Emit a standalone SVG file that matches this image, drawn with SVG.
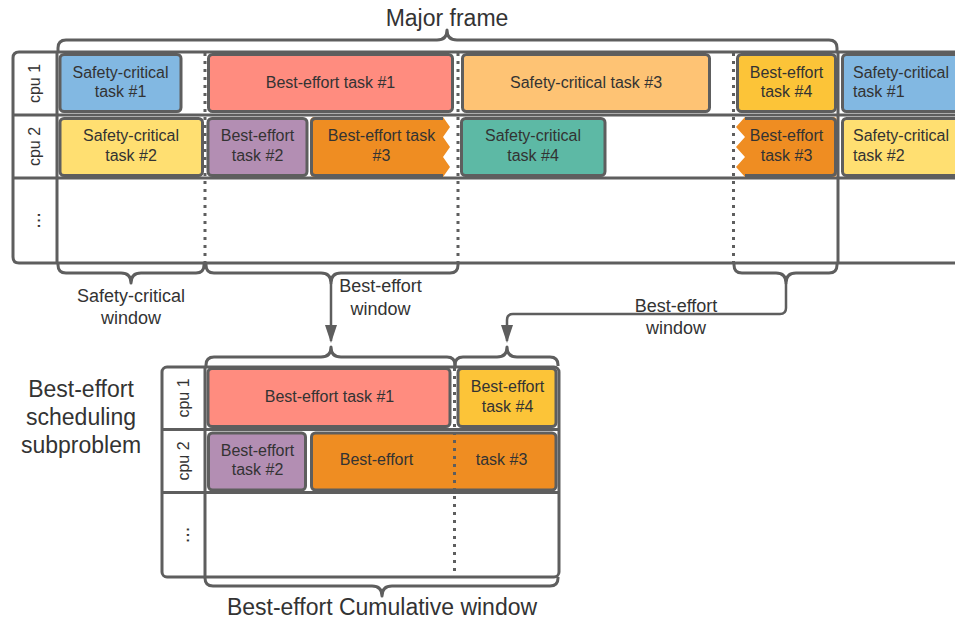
<svg xmlns="http://www.w3.org/2000/svg" width="955" height="621" viewBox="0 0 955 621">
  <defs>
    <style>
      .grid { fill: none; stroke: #5e5e5e; stroke-width: 3; }
      .dots { fill: none; stroke: #5e5e5e; stroke-width: 3; stroke-dasharray: 3 5; }
      .brace { fill: none; stroke: #5e5e5e; stroke-width: 3; stroke-linejoin: round; }
      .edge { fill: none; stroke: #5e5e5e; stroke-width: 2.5; }
      .task { stroke: #5e5e5e; stroke-width: 3; }
      .t16 { font-family: "Liberation Sans", Arial, sans-serif; font-size: 16px; fill: #333333; text-anchor: middle; }
      .t16l { font-family: "Liberation Sans", Arial, sans-serif; font-size: 16px; fill: #333333; text-anchor: start; }
      .ell { font-family: "Liberation Sans", Arial, sans-serif; font-size: 20px; fill: #333333; text-anchor: middle; }
      .t18 { font-family: "Liberation Sans", Arial, sans-serif; font-size: 18px; fill: #333333; text-anchor: middle; }
      .t23 { font-family: "Liberation Sans", Arial, sans-serif; font-size: 23px; fill: #333333; text-anchor: middle; }
      .sc1 { fill: #82b8e2; }
      .sc2 { fill: #ffdf71; }
      .sc3 { fill: #fec374; }
      .sc4 { fill: #5db9a5; }
      .be1 { fill: #ff8c7f; }
      .be2 { fill: #b38eb3; }
      .be3 { fill: #ef8d22; }
      .be4 { fill: #fcc438; }
    </style>
    <marker id="arrow" viewBox="0 0 18 12" refX="16" refY="6" markerWidth="18" markerHeight="12" markerUnits="userSpaceOnUse" orient="auto">
      <path d="M0,0 L18,6 L0,12 Z" fill="#5e5e5e"/>
    </marker>
  </defs>

  <!-- ===== Major frame schedule ===== -->
  <g id="major-frame-table">
    <path class="grid" d="M955,52 H19 Q13,52 13,58 V257 Q13,263 19,263 H955"/>
    <path class="grid" d="M13,115 H955 M13,178 H955 M57,52 V263"/>
    <text class="t16" transform="translate(40,83.5) rotate(-90)">cpu 1</text>
    <text class="t16" transform="translate(40,146.5) rotate(-90)">cpu 2</text>
    <text class="ell" transform="translate(39.5,220.5) rotate(-90)">...</text>
  </g>

  <g id="mf-sc-task-1">
    <rect class="task sc1" x="60" y="54.5" width="121" height="57" rx="4"/>
    <text class="t16" x="120.5" y="77.5">Safety-critical</text>
    <text class="t16" x="120.5" y="97">task #1</text>
  </g>
  <g id="mf-be-task-1">
    <rect class="task be1" x="208.5" y="54.5" width="244" height="57" rx="4"/>
    <text class="t16" x="330.5" y="87.5">Best-effort task #1</text>
  </g>
  <g id="mf-sc-task-3">
    <rect class="task sc3" x="462.5" y="54.5" width="247" height="57" rx="4"/>
    <text class="t16" x="586" y="87.5">Safety-critical task #3</text>
  </g>
  <g id="mf-be-task-4">
    <rect class="task be4" x="737.5" y="54.5" width="98" height="57" rx="4"/>
    <text class="t16" x="786.5" y="77.5">Best-effort</text>
    <text class="t16" x="786.5" y="97">task #4</text>
  </g>
  <g id="next-sc-task-1">
    <rect class="task sc1" x="842.5" y="54.5" width="150" height="57" rx="4"/>
    <text class="t16l" x="853" y="77.5">Safety-critical</text>
    <text class="t16l" x="853" y="97">task #1</text>
  </g>

  <g id="mf-sc-task-2">
    <rect class="task sc2" x="60" y="118.5" width="142.5" height="57" rx="4"/>
    <text class="t16" x="131" y="141">Safety-critical</text>
    <text class="t16" x="131" y="160.5">task #2</text>
  </g>
  <g id="mf-be-task-2">
    <rect class="task be2" x="208" y="118.5" width="99" height="57" rx="4"/>
    <text class="t16" x="257.5" y="141">Best-effort</text>
    <text class="t16" x="257.5" y="160.5">task #2</text>
  </g>
  <g id="mf-be-task-3a">
    <path class="be3" d="M443,117 H315 Q310,117 310,122 V172 Q310,177 315,177 H443 L450,167 L443,157 L450,147 L443,137 L450,127 Z"/>
    <path class="grid" d="M443,118.5 H315.5 Q311.5,118.5 311.5,122.5 V171.5 Q311.5,175.5 315.5,175.5 H443"/>
    <text class="t16" x="381.5" y="141">Best-effort task</text>
    <text class="t16" x="381.5" y="160.5">#3</text>
  </g>
  <g id="mf-sc-task-4">
    <rect class="task sc4" x="461.5" y="118.5" width="143.5" height="57" rx="4"/>
    <text class="t16" x="533" y="141">Safety-critical</text>
    <text class="t16" x="533" y="160.5">task #4</text>
  </g>
  <g id="mf-be-task-3b">
    <path class="be3" d="M745,117 H833 Q837,117 837,121 V173 Q837,177 833,177 H745 L736,167 L745,157 L736,147 L745,137 L736,127 Z"/>
    <path class="grid" d="M745,118.5 H831.5 Q835.5,118.5 835.5,122.5 V171.5 Q835.5,175.5 831.5,175.5 H745"/>
    <text class="t16" x="786.5" y="141">Best-effort</text>
    <text class="t16" x="786.5" y="160.5">task #3</text>
  </g>
  <g id="next-sc-task-2">
    <rect class="task sc2" x="842.5" y="118.5" width="150" height="57" rx="4"/>
    <text class="t16l" x="853" y="141">Safety-critical</text>
    <text class="t16l" x="853" y="160.5">task #2</text>
  </g>

  <!-- window boundaries -->
  <g id="mf-boundaries">
    <path class="dots" d="M205,53 V263 M458,53 V263 M733.5,53 V263"/>
    <path class="grid" d="M838,52 V263"/>
  </g>

  <!-- braces over/under the major frame -->
  <g id="major-frame-brace">
    <path class="brace" d="M58,52 V48 Q58,40 66,40 H437 Q447,40 447,30 Q447,40 457,40 H829 Q837,40 837,48 V52"/>
    <text class="t23" x="447" y="26">Major frame</text>
  </g>
  <g id="sc-window">
    <path class="brace" d="M58,263 V265 Q58,273 66,273 H121 Q131,273 131,283 Q131,273 141,273 H196 Q204,273 204,265 V263"/>
    <text class="t18" x="131" y="302">Safety-critical</text>
    <text class="t18" x="131" y="324">window</text>
  </g>
  <g id="be-window-1">
    <path class="brace" d="M206,263 V265 Q206,273 214,273 H321 Q331,273 331,283 Q331,273 341,273 H450 Q458,273 458,265 V263"/>
    <text class="t18" x="380.5" y="292">Best-effort</text>
    <text class="t18" x="380.5" y="314.5">window</text>
  </g>
  <g id="be-window-2">
    <path class="brace" d="M734,263 V265 Q734,273 742,273 H776 Q786,273 786,283 Q786,273 796,273 H829 Q837,273 837,265 V263"/>
    <text class="t18" x="676" y="311.5">Best-effort</text>
    <text class="t18" x="676" y="334">window</text>
  </g>

  <!-- connectors -->
  <g id="connectors">
    <path class="edge" d="M331,283 V341" marker-end="url(#arrow)"/>
    <path class="edge" d="M786,283 V308 Q786,314 780,314 H513 Q507,314 507,320 V341" marker-end="url(#arrow)"/>
  </g>

  <!-- ===== Best-effort scheduling subproblem ===== -->
  <g id="subproblem-title">
    <text class="t23" x="81" y="396.5">Best-effort</text>
    <text class="t23" x="81" y="424.5">scheduling</text>
    <text class="t23" x="81" y="452.5">subproblem</text>
  </g>

  <g id="subproblem-table">
    <rect class="grid" x="162" y="367" width="397" height="210" rx="5"/>
    <path class="grid" d="M162,429.5 H559 M162,492.5 H559 M205,367 V577"/>
    <text class="t16" transform="translate(188.5,398) rotate(-90)">cpu 1</text>
    <text class="t16" transform="translate(188.5,461) rotate(-90)">cpu 2</text>
    <text class="ell" transform="translate(188.5,535) rotate(-90)">...</text>
  </g>

  <g id="sp-be-task-1">
    <rect class="task be1" x="208" y="368.5" width="242" height="58" rx="4"/>
    <text class="t16" x="329.5" y="402">Best-effort task #1</text>
  </g>
  <g id="sp-be-task-4">
    <rect class="task be4" x="458" y="368.5" width="98" height="58" rx="4"/>
    <text class="t16" x="507.5" y="392">Best-effort</text>
    <text class="t16" x="507.5" y="411.5">task #4</text>
  </g>
  <g id="sp-be-task-2">
    <rect class="task be2" x="208.5" y="433" width="97" height="57" rx="4"/>
    <text class="t16" x="257.5" y="455.5">Best-effort</text>
    <text class="t16" x="257.5" y="475">task #2</text>
  </g>
  <g id="sp-be-task-3">
    <rect class="task be3" x="311.5" y="433" width="244.5" height="57" rx="4"/>
    <text class="t16" x="376.5" y="465">Best-effort</text>
    <text class="t16" x="501.5" y="465">task #3</text>
  </g>

  <g id="sp-boundary">
    <path class="dots" d="M454.5,368 V577"/>
  </g>

  <g id="sp-window-braces">
    <path class="brace" d="M206,366 V365 Q206,357 214,357 H321 Q331,357 331,347 Q331,357 341,357 H447 Q455,357 455,365 V366"/>
    <path class="brace" d="M455,366 V365 Q455,357 463,357 H497 Q507,357 507,347 Q507,357 517,357 H550 Q558,357 558,365 V366"/>
  </g>

  <g id="cumulative-window">
    <path class="brace" d="M205,577 V578 Q205,586 213,586 H372 Q382,586 382,596 Q382,586 392,586 H550 Q558,586 558,578 V577"/>
    <text class="t23" x="382" y="615">Best-effort Cumulative window</text>
  </g>
</svg>
